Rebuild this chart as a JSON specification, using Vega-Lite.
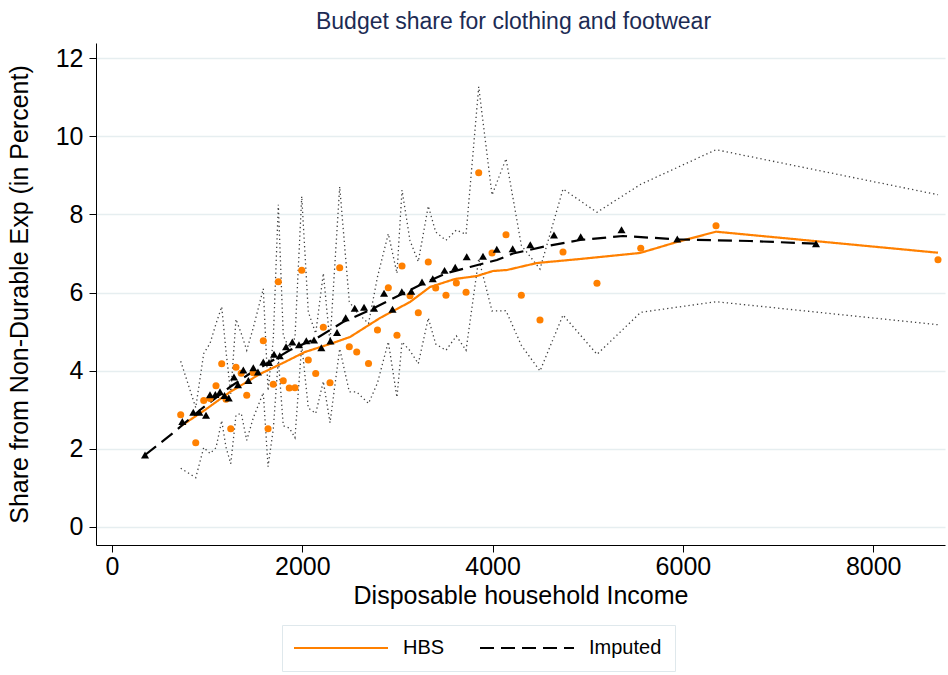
{
  "$schema": "https://vega.github.io/schema/vega-lite/v6.json",
  "width": 849,
  "height": 502,
  "autosize": {"type": "none"},
  "padding": {"left": 96, "top": 43, "right": 3, "bottom": 130},
  "background": "white",
  "title": {
    "text": "Budget share for clothing and footwear",
    "anchor": "middle",
    "frame": "group",
    "font": "Liberation Sans",
    "fontSize": 23,
    "fontWeight": "normal",
    "color": "#1c2b54",
    "offset": 16,
    "baseline": "alphabetic",
    "dx": -7,
    "dy": 25
  },
  "config": {
    "view": {"stroke": null},
    "font": "Liberation Sans",
    "axis": {
      "labelFont": "Liberation Sans",
      "labelFontSize": 25,
      "labelColor": "black",
      "titleFont": "Liberation Sans",
      "titleFontSize": 25,
      "titleFontWeight": "normal",
      "titleColor": "black",
      "domainColor": "black",
      "domainWidth": 1,
      "tickColor": "black",
      "tickSize": 7,
      "tickWidth": 1
    },
    "axisX": {"grid": false, "labelPadding": 2, "titlePadding": 4},
    "axisY": {"grid": true, "gridColor": "#e6eef0", "gridWidth": 1.5, "labelPadding": 6, "titlePadding": 23}
  },
  "datasets": {
    "hbs": [
      {"income": 722, "share": 2.873, "upper": 4.242, "lower": 1.504},
      {"income": 880, "share": 2.157, "upper": 3.053, "lower": 1.261},
      {"income": 964, "share": 3.237, "upper": 4.440, "lower": 2.034},
      {"income": 1030, "share": 3.288, "upper": 4.695, "lower": 1.881},
      {"income": 1093, "share": 3.615, "upper": 5.201, "lower": 2.029},
      {"income": 1153, "share": 4.178, "upper": 5.636, "lower": 2.720},
      {"income": 1198, "share": 3.270, "upper": 4.498, "lower": 2.042},
      {"income": 1248, "share": 2.515, "upper": 3.411, "lower": 1.619},
      {"income": 1303, "share": 4.089, "upper": 5.317, "lower": 2.861},
      {"income": 1358, "share": 3.933, "upper": 4.956, "lower": 2.910},
      {"income": 1416, "share": 3.370, "upper": 4.521, "lower": 2.219},
      {"income": 1485, "share": 3.948, "upper": 5.099, "lower": 2.797},
      {"income": 1590, "share": 4.767, "upper": 6.097, "lower": 3.437},
      {"income": 1640, "share": 2.515, "upper": 3.487, "lower": 1.543},
      {"income": 1695, "share": 3.654, "upper": 4.805, "lower": 2.503},
      {"income": 1748, "share": 6.276, "upper": 8.246, "lower": 4.306},
      {"income": 1800, "share": 3.743, "upper": 4.894, "lower": 2.592},
      {"income": 1863, "share": 3.557, "upper": 4.580, "lower": 2.534},
      {"income": 1923, "share": 3.564, "upper": 4.843, "lower": 2.285},
      {"income": 1994, "share": 6.568, "upper": 8.461, "lower": 4.675},
      {"income": 2063, "share": 4.273, "upper": 5.501, "lower": 3.045},
      {"income": 2141, "share": 3.928, "upper": 4.951, "lower": 2.905},
      {"income": 2221, "share": 5.110, "upper": 6.492, "lower": 3.728},
      {"income": 2291, "share": 3.690, "upper": 4.713, "lower": 2.667},
      {"income": 2393, "share": 6.635, "upper": 8.708, "lower": 4.562},
      {"income": 2494, "share": 4.611, "upper": 5.762, "lower": 3.460},
      {"income": 2572, "share": 4.478, "upper": 5.501, "lower": 3.455},
      {"income": 2696, "share": 4.183, "upper": 5.206, "lower": 3.160},
      {"income": 2790, "share": 5.041, "upper": 6.397, "lower": 3.685},
      {"income": 2904, "share": 6.123, "upper": 7.505, "lower": 4.741},
      {"income": 2995, "share": 4.905, "upper": 6.491, "lower": 3.319},
      {"income": 3048, "share": 6.678, "upper": 8.623, "lower": 4.733},
      {"income": 3132, "share": 5.918, "upper": 7.325, "lower": 4.511},
      {"income": 3219, "share": 5.483, "upper": 6.788, "lower": 4.178},
      {"income": 3324, "share": 6.780, "upper": 8.213, "lower": 5.347},
      {"income": 3402, "share": 6.115, "upper": 7.548, "lower": 4.682},
      {"income": 3510, "share": 5.928, "upper": 7.335, "lower": 4.521},
      {"income": 3619, "share": 6.243, "upper": 7.599, "lower": 4.887},
      {"income": 3721, "share": 6.005, "upper": 7.489, "lower": 4.521},
      {"income": 3854, "share": 9.065, "upper": 11.265, "lower": 6.865},
      {"income": 3994, "share": 7.011, "upper": 8.495, "lower": 5.527},
      {"income": 4141, "share": 7.479, "upper": 9.424, "lower": 5.534},
      {"income": 4302, "share": 5.928, "upper": 7.207, "lower": 4.649},
      {"income": 4498, "share": 5.296, "upper": 6.601, "lower": 3.991},
      {"income": 4740, "share": 7.036, "upper": 8.648, "lower": 5.424},
      {"income": 5097, "share": 6.235, "upper": 8.052, "lower": 4.418},
      {"income": 5557, "share": 7.131, "upper": 8.769, "lower": 5.493},
      {"income": 6348, "share": 7.709, "upper": 9.654, "lower": 5.764},
      {"income": 8681, "share": 6.839, "upper": 8.502, "lower": 5.176}
    ],
    "hbsline": [
      {"income": 725, "share": 2.584, "series": "HBS"},
      {"income": 977, "share": 2.994, "series": "HBS"},
      {"income": 1240, "share": 3.454, "series": "HBS"},
      {"income": 1555, "share": 3.915, "series": "HBS"},
      {"income": 1818, "share": 4.222, "series": "HBS"},
      {"income": 2028, "share": 4.478, "series": "HBS"},
      {"income": 2291, "share": 4.682, "series": "HBS"},
      {"income": 2501, "share": 4.861, "series": "HBS"},
      {"income": 2817, "share": 5.348, "series": "HBS"},
      {"income": 2974, "share": 5.552, "series": "HBS"},
      {"income": 3132, "share": 5.757, "series": "HBS"},
      {"income": 3342, "share": 6.141, "series": "HBS"},
      {"income": 3605, "share": 6.346, "series": "HBS"},
      {"income": 3836, "share": 6.422, "series": "HBS"},
      {"income": 4004, "share": 6.550, "series": "HBS"},
      {"income": 4151, "share": 6.576, "series": "HBS"},
      {"income": 4467, "share": 6.755, "series": "HBS"},
      {"income": 4919, "share": 6.857, "series": "HBS"},
      {"income": 5549, "share": 7.011, "series": "HBS"},
      {"income": 5938, "share": 7.292, "series": "HBS"},
      {"income": 6348, "share": 7.556, "series": "HBS"},
      {"income": 8681, "share": 7.018, "series": "HBS"}
    ],
    "impline": [
      {"income": 347, "share": 1.842, "series": "Imputed"},
      {"income": 641, "share": 2.405, "series": "Imputed"},
      {"income": 925, "share": 2.994, "series": "Imputed"},
      {"income": 1240, "share": 3.582, "series": "Imputed"},
      {"income": 1450, "share": 3.928, "series": "Imputed"},
      {"income": 1661, "share": 4.222, "series": "Imputed"},
      {"income": 1871, "share": 4.529, "series": "Imputed"},
      {"income": 2155, "share": 4.836, "series": "Imputed"},
      {"income": 2428, "share": 5.245, "series": "Imputed"},
      {"income": 2712, "share": 5.552, "series": "Imputed"},
      {"income": 2848, "share": 5.719, "series": "Imputed"},
      {"income": 3058, "share": 5.974, "series": "Imputed"},
      {"income": 3269, "share": 6.230, "series": "Imputed"},
      {"income": 3521, "share": 6.499, "series": "Imputed"},
      {"income": 3763, "share": 6.653, "series": "Imputed"},
      {"income": 4046, "share": 6.832, "series": "Imputed"},
      {"income": 4214, "share": 6.998, "series": "Imputed"},
      {"income": 4572, "share": 7.190, "series": "Imputed"},
      {"income": 4919, "share": 7.343, "series": "Imputed"},
      {"income": 5370, "share": 7.446, "series": "Imputed"},
      {"income": 5970, "share": 7.356, "series": "Imputed"},
      {"income": 6705, "share": 7.318, "series": "Imputed"},
      {"income": 7409, "share": 7.249, "series": "Imputed"}
    ],
    "imp": [
      {"income": 347, "share": 1.842},
      {"income": 739, "share": 2.699},
      {"income": 854, "share": 2.937},
      {"income": 918, "share": 2.937},
      {"income": 988, "share": 2.861},
      {"income": 1030, "share": 3.385},
      {"income": 1086, "share": 3.390},
      {"income": 1135, "share": 3.462},
      {"income": 1182, "share": 3.365},
      {"income": 1227, "share": 3.301},
      {"income": 1282, "share": 3.838},
      {"income": 1324, "share": 3.641},
      {"income": 1380, "share": 4.017},
      {"income": 1433, "share": 3.748},
      {"income": 1485, "share": 4.073},
      {"income": 1534, "share": 3.966},
      {"income": 1590, "share": 4.222},
      {"income": 1650, "share": 4.209},
      {"income": 1703, "share": 4.421},
      {"income": 1763, "share": 4.380},
      {"income": 1829, "share": 4.613},
      {"income": 1895, "share": 4.734},
      {"income": 1965, "share": 4.664},
      {"income": 2042, "share": 4.767},
      {"income": 2123, "share": 4.785},
      {"income": 2200, "share": 4.588},
      {"income": 2296, "share": 4.759},
      {"income": 2365, "share": 4.977},
      {"income": 2456, "share": 5.353},
      {"income": 2551, "share": 5.598},
      {"income": 2649, "share": 5.624},
      {"income": 2754, "share": 5.596},
      {"income": 2859, "share": 5.980},
      {"income": 2948, "share": 5.570},
      {"income": 3046, "share": 6.018},
      {"income": 3145, "share": 6.033},
      {"income": 3258, "share": 6.269},
      {"income": 3371, "share": 6.353},
      {"income": 3495, "share": 6.566},
      {"income": 3607, "share": 6.645},
      {"income": 3728, "share": 6.916},
      {"income": 3899, "share": 6.926},
      {"income": 4044, "share": 7.108},
      {"income": 4211, "share": 7.121},
      {"income": 4396, "share": 7.223},
      {"income": 4645, "share": 7.471},
      {"income": 4926, "share": 7.428},
      {"income": 5355, "share": 7.607},
      {"income": 5941, "share": 7.369},
      {"income": 7399, "share": 7.249}
    ]
  },
  "layer": [
    {
      "data": {"name": "hbs"},
      "mark": {"type": "line", "color": "#404040", "strokeWidth": 1.3, "strokeDash": [1.3, 3]},
      "encoding": {
        "x": {
          "field": "income", "type": "quantitative",
          "scale": {"domain": [-168.2, 8754.6], "nice": false, "zero": false},
          "axis": {"values": [0, 2000, 4000, 6000, 8000], "format": "d", "title": "Disposable household Income"}
        },
        "y": {
          "field": "upper", "type": "quantitative",
          "scale": {"domain": [-0.4606, 12.384], "nice": false, "zero": false},
          "axis": {"values": [0, 2, 4, 6, 8, 10, 12], "format": "d", "title": "Share from Non-Durable Exp (in Percent)"}
        }
      }
    },
    {
      "data": {"name": "hbs"},
      "mark": {"type": "line", "color": "#404040", "strokeWidth": 1.3, "strokeDash": [1.3, 3]},
      "encoding": {
        "x": {"field": "income", "type": "quantitative"},
        "y": {"field": "lower", "type": "quantitative", "title": "Share from Non-Durable Exp (in Percent)"}
      }
    },
    {
      "data": {"name": "hbsline"},
      "mark": {"type": "line", "strokeWidth": 2.2},
      "encoding": {
        "x": {"field": "income", "type": "quantitative"},
        "y": {"field": "share", "type": "quantitative", "title": "Share from Non-Durable Exp (in Percent)"},
        "color": {
          "field": "series", "type": "nominal",
          "scale": {"domain": ["HBS", "Imputed"], "range": ["#ff8000", "#000000"]},
          "legend": {
            "title": null,
            "orient": "none",
            "legendX": 186,
            "legendY": 582,
            "direction": "horizontal",
            "symbolType": "M-9.4,0H9.4",
            "symbolSize": 100,
            "symbolStrokeWidth": 2,
            "symbolOffset": 36,
            "labelOffset": 52,
            "labelFont": "Liberation Sans",
            "labelFontSize": 20,
            "labelColor": "black",
            "columnPadding": 31,
            "padding": 13,
            "fillColor": "white",
            "strokeColor": "#dfe8ec"
          }
        },
        "strokeDash": {
          "field": "series", "type": "nominal",
          "scale": {"domain": ["HBS", "Imputed"], "range": [[1, 0], [14, 7]]}
        }
      }
    },
    {
      "data": {"name": "impline"},
      "mark": {"type": "line", "strokeWidth": 2.2},
      "encoding": {
        "x": {"field": "income", "type": "quantitative"},
        "y": {"field": "share", "type": "quantitative", "title": "Share from Non-Durable Exp (in Percent)"},
        "color": {"field": "series", "type": "nominal"},
        "strokeDash": {"field": "series", "type": "nominal"}
      }
    },
    {
      "data": {"name": "hbs"},
      "mark": {"type": "circle", "color": "#ff8000", "opacity": 1, "size": 50},
      "encoding": {
        "x": {"field": "income", "type": "quantitative"},
        "y": {"field": "share", "type": "quantitative", "title": "Share from Non-Durable Exp (in Percent)"}
      }
    },
    {
      "data": {"name": "imp"},
      "mark": {"type": "point", "shape": "triangle-up", "filled": true, "color": "black", "opacity": 1, "size": 65},
      "encoding": {
        "x": {"field": "income", "type": "quantitative"},
        "y": {"field": "share", "type": "quantitative", "title": "Share from Non-Durable Exp (in Percent)"}
      }
    }
  ]
}
